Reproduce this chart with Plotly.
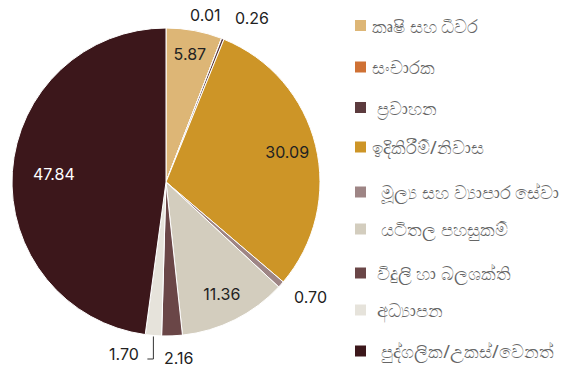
import math
import plotly.graph_objects as go

# Loan distribution by sector (percent)
sectors = [
    "කෘෂි සහ ධීවර",
    "සංචාරක",
    "ප්‍රවාහන",
    "ඉදිකිරීම්/නිවාස",
    "මූල්‍ය සහ ව්‍යාපාර සේවා",
    "යටිතල පහසුකම්",
    "විදුලි හා බලශක්ති",
    "අධ්‍යාපන",
    "පුද්ගලික/උකස්/වෙනත්",
]
shares = [5.87, 0.01, 0.26, 30.09, 0.70, 11.36, 2.16, 1.70, 47.84]
colors = ["#DDB676", "#CF7134", "#5C3B3E", "#CD9527", "#9E8585",
          "#D3CDBE", "#6A4647", "#E6E3DB", "#3C171B"]
inner_colors = ["#222222"] * 8 + ["#FFFFFF"]

W, H = 569, 368
CX, CY, R = 166, 182, 154           # pie centre and radius in px
domain = dict(x=[(CX - R) / W, (CX + R) / W],
              y=[1 - (CY + R) / H, 1 - (CY - R) / H])
n = len(shares)

# Inside labels: slice index -> ring hole that sets the label radius
inside_rings = {0.55: [0], 0.62: [3, 5], 0.46: [8]}


def pie(text_idx=(), hole=0.0, filled=False):
    return go.Pie(
        labels=sectors,
        values=shares,
        hole=hole,
        texttemplate="%{value:.2f}",
        textposition=["inside" if i in text_idx else "none" for i in range(n)],
        insidetextfont=dict(color=inner_colors, size=16, family="Inter"),
        insidetextorientation="horizontal",
        marker=dict(colors=colors if filled else ["rgba(0,0,0,0)"] * n,
                    line=dict(color="#FFFFFF", width=1 if filled else 0)),
        sort=False,
        direction="clockwise",
        rotation=0,
        domain=domain,
        showlegend=False,
        hoverinfo="label+value" if filled else "skip",
    )


fig = go.Figure()
fig.add_trace(pie(filled=True))
for hole, idx in inside_rings.items():
    fig.add_trace(pie(idx, hole=hole))

# Outside labels for the thin slices: (radial gap px, x shift, y shift, anchor)
outside = {
    1: (22, -7, -3, "right"),
    2: (22, 2, 0, "left"),
    4: (16, -1, 2, "left"),
    6: (22, 6, 0, "center"),
}
total = sum(shares)
cum = 0.0
edges = {}
for i, v in enumerate(shares):
    ang = math.radians((cum + v / 2) / total * 360)
    edges[i] = (CX + R * math.sin(ang), CY - R * math.cos(ang), ang)
    cum += v

for i, (gap, dx, dy, anchor) in outside.items():
    _, _, ang = edges[i]
    px = CX + (R + gap) * math.sin(ang) + dx
    py = CY - (R + gap) * math.cos(ang) + dy
    fig.add_annotation(xref="paper", yref="paper", x=px / W, y=1 - py / H,
                       text=f"{shares[i]:.2f}", showarrow=False,
                       xanchor=anchor, yanchor="middle",
                       font=dict(size=16, color="#222222", family="Inter"))

# Slice 7 gets an elbow leader line down and to the left
ex, ey, _ = edges[7]
drop = CY + R + 23
fig.add_shape(type="path", xref="paper", yref="paper",
              path=(f"M {ex / W},{1 - (ey + 1) / H} L {ex / W},{1 - drop / H} "
                    f"L {(ex - 6) / W},{1 - drop / H}"),
              line=dict(color="#333333", width=1))
fig.add_annotation(xref="paper", yref="paper", x=(ex - 12) / W,
                   y=1 - (drop - 5) / H, text=f"{shares[7]:.2f}",
                   showarrow=False, xanchor="right", yanchor="middle",
                   font=dict(size=16, color="#222222", family="Inter"))

# Legend: coloured squares with sector names
legend_y = [25.5, 67, 107.5, 147, 192, 229, 273, 310, 351]
legend_pad = ["", "", " ", "", "  ", "  ", " ", " ", "  "]
for name, col, yc, pad in zip(sectors, colors, legend_y, legend_pad):
    fig.add_shape(type="rect", xref="paper", yref="paper",
                  x0=355 / W, x1=366 / W,
                  y0=1 - (yc + 5.5) / H, y1=1 - (yc - 5.5) / H,
                  fillcolor=col, line=dict(width=0))
    fig.add_annotation(xref="paper", yref="paper", x=370 / W, y=1 - yc / H,
                       text=pad + name, showarrow=False, xanchor="left",
                       yanchor="middle",
                       font=dict(size=18, color="#666666", family="Noto Sans"))

fig.update_layout(
    width=W, height=H,
    margin=dict(l=0, r=0, t=0, b=0),
    paper_bgcolor="#FFFFFF",
    plot_bgcolor="#FFFFFF",
)

fig.write_html("out.html")
